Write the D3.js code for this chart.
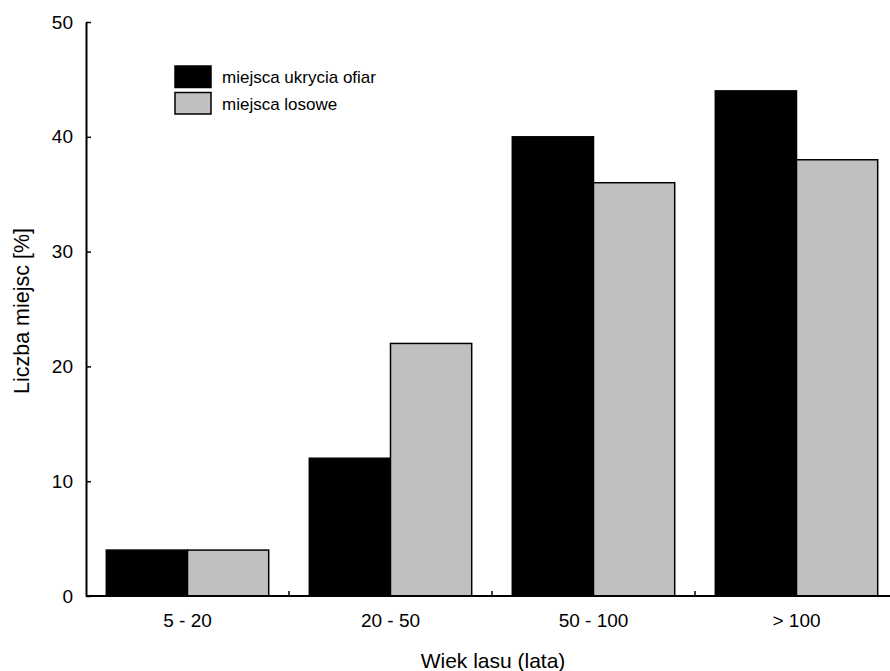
<!DOCTYPE html>
<html>
<head>
<meta charset="utf-8">
<script src="https://cdn.jsdelivr.net/npm/d3@7"></script>
<style>
  body { margin: 0; background: #fff; }
  text { font-family: "Liberation Sans", Arial, sans-serif; fill: #000; }
</style>
</head>
<body>
<div id="chart"></div>
<script>
// age classes of the forest (x axis)
const categories = ["5 - 20", "20 - 50", "50 - 100", "> 100"];
// two series, percent of places
const seriesNames = ["miejsca ukrycia ofiar", "miejsca losowe"];
const preyPlaces = [4, 12, 40, 44];
const randomPlaces = [4, 22, 36, 38];
const yTicks = [0, 10, 20, 30, 40, 50];
const seriesColors = ["#000000", "#c0c0c0"];

const W = 890, H = 671;
const svg = d3.select("#chart").append("svg").attr("width", W).attr("height", H);

// plot area edges
const plotLeft = 86, plotBottom = 596, plotTop = 22, plotRight = 898;

const y = d3.scaleLinear().domain([0, 50]).range([plotBottom, plotTop]);
const x0 = d3.scaleBand().domain(categories).range([plotLeft, plotRight]).paddingInner(0.2).paddingOuter(0.1);
const x1 = d3.scaleBand().domain(seriesNames).range([0, x0.bandwidth()]);

const rows = categories.map((c, i) => ({ cat: c, vals: [preyPlaces[i], randomPlaces[i]] }));

// bars
const g = svg.append("g");
rows.forEach(r => {
  r.vals.forEach((v, j) => {
    g.append("rect")
      .attr("x", x0(r.cat) + x1(seriesNames[j]))
      .attr("y", y(v))
      .attr("width", x1.bandwidth())
      .attr("height", y(0) - y(v))
      .attr("fill", seriesColors[j])
      .attr("stroke", "#000")
      .attr("stroke-width", 1.5);
  });
});

// y axis, ticks point inward
const yAxis = svg.append("g")
  .attr("transform", `translate(${plotLeft},0)`)
  .call(d3.axisLeft(y).tickValues(yTicks).tickSize(-5).tickPadding(13).tickSizeOuter(0));
yAxis.select(".domain").attr("stroke-width", 2);
yAxis.selectAll(".tick line").attr("stroke-width", 1.5);
yAxis.selectAll(".tick text").attr("font-size", 19).attr("font-family", "Liberation Sans, Arial, sans-serif");

// x axis line
svg.append("line")
  .attr("x1", plotLeft).attr("x2", plotRight)
  .attr("y1", plotBottom).attr("y2", plotBottom)
  .attr("stroke", "#000").attr("stroke-width", 2);

// little separators between groups
const step = x0.step();
svg.selectAll(".sep")
  .data(categories.slice(1))
  .enter().append("line")
  .attr("x1", d => x0(d) - (step - x0.bandwidth()) / 2)
  .attr("x2", d => x0(d) - (step - x0.bandwidth()) / 2)
  .attr("y1", plotBottom).attr("y2", plotBottom - 5)
  .attr("stroke", "#000").attr("stroke-width", 1.5);

// category labels
svg.selectAll(".cat")
  .data(categories)
  .enter().append("text")
  .attr("x", d => x0(d) + x0.bandwidth() / 2)
  .attr("y", 627)
  .attr("text-anchor", "middle")
  .attr("font-size", 19)
  .text(d => d);

// axis titles
svg.append("text")
  .attr("x", 493).attr("y", 668)
  .attr("text-anchor", "middle")
  .attr("font-size", 21)
  .text("Wiek lasu (lata)");

svg.append("text")
  .attr("transform", "translate(29,311) rotate(-90)")
  .attr("text-anchor", "middle")
  .attr("font-size", 21.5)
  .text("Liczba miejsc [%]");

// legend
const leg = svg.append("g").attr("transform", "translate(175,66)");
seriesNames.forEach((s, i) => {
  leg.append("rect")
    .attr("x", 0).attr("y", i * 26.5)
    .attr("width", 36).attr("height", 21.5)
    .attr("fill", seriesColors[i])
    .attr("stroke", "#000").attr("stroke-width", 1.5);
  leg.append("text")
    .attr("x", 47).attr("y", i * 26.5 + 17)
    .attr("font-size", 17)
    .text(s);
});
</script>
</body>
</html>
